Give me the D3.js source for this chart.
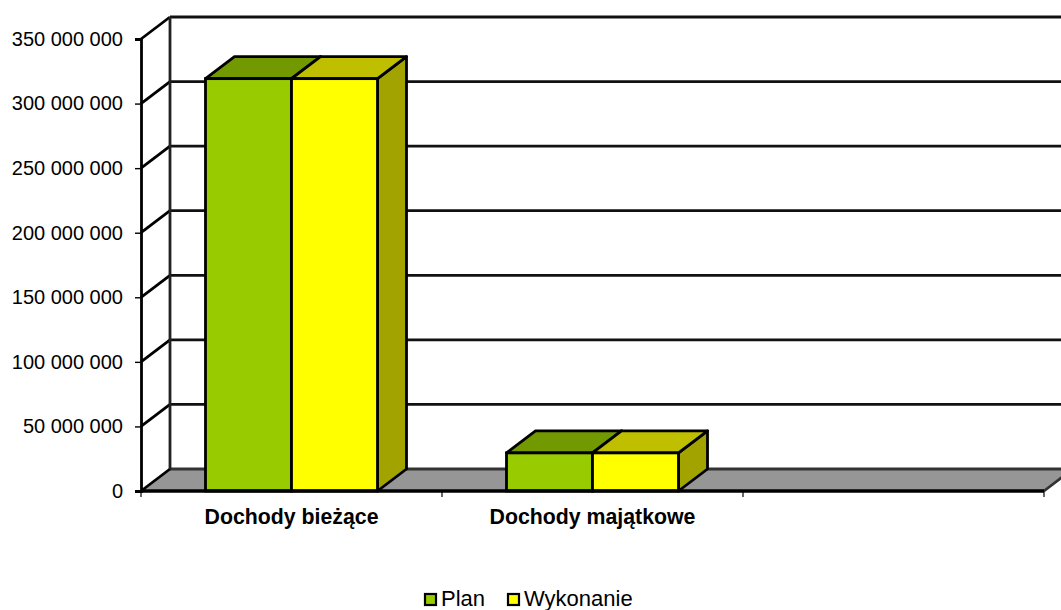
<!DOCTYPE html>
<html><head><meta charset="utf-8">
<script src="https://cdn.jsdelivr.net/npm/d3@7"></script>
<style>html,body{margin:0;padding:0;background:#fff}svg{display:block}text{font-family:"Liberation Sans",Arial,sans-serif;fill:#000}</style>
</head><body><svg id="c" width="1061" height="610"></svg>
<script>
const categories = ["Dochody bieżące", "Dochody majątkowe", ""];
const seriesNames = ["Plan", "Wykonanie"];
const planValues = [319300000, 29500000, null];
const wykonanieValues = [319300000, 29500000, null];
const yTicks = [0, 50000000, 100000000, 150000000, 200000000, 250000000, 300000000, 350000000];
const frontColors = ["#99cc00", "#ffff00"];
const topColors = ["#739900", "#bfbf00"];
const sideColors = ["#739900", "#a3a300"];
const floorColor = "#969696";

const dx = 29, dy = -22, sw = 2.8;
const svg = d3.select("#c");
const y = d3.scaleLinear().domain([0, 350000000]).range([491, 39]);
const x0 = d3.scaleBand().domain(categories).range([141, 1044]);
const x1 = d3.scaleBand().domain(seriesNames).range([0, x0.bandwidth()]).paddingInner(0).paddingOuter(0.75);
const fmt = v => d3.format(",")(v).replace(/,/g, " ");
const pts = a => a.map(p => p.join(",")).join(" ");
const xL = x0.range()[0], xR = x0.range()[1], y0 = y(0);

// floor
svg.append("polygon").attr("points", pts([[xL,y0],[xL+dx,y0+dy],[xR+dx,y0+dy],[xR,y0]]))
  .attr("fill", floorColor).attr("stroke","none");
svg.append("line").attr("x1",xL+dx).attr("x2",1061).attr("y1",y0+dy).attr("y2",y0+dy).attr("stroke","#333").attr("stroke-width",sw);

// walls & gridlines
yTicks.slice(1).forEach(t => {
  svg.append("line").attr("x1",xL+dx).attr("x2",1061).attr("y1",y(t)+dy).attr("y2",y(t)+dy).attr("stroke","#111").attr("stroke-width",sw);
});
yTicks.forEach(t => {
  svg.append("line").attr("x1",xL).attr("y1",y(t)).attr("x2",xL+dx).attr("y2",y(t)+dy).attr("stroke","#000").attr("stroke-width",sw);
});
svg.append("line").attr("x1",xL+dx).attr("x2",xL+dx).attr("y1",y0+dy).attr("y2",y(350000000)+dy).attr("stroke","#222").attr("stroke-width",sw);
svg.append("line").attr("x1",xR).attr("y1",y0).attr("x2",xR+dx).attr("y2",y0+dy).attr("stroke","#333").attr("stroke-width",sw);

// bars
[planValues, wykonanieValues].forEach((vals, s) => {
  const name = seriesNames[s];
  const g = svg.append("g");
  categories.forEach((c, i) => {
    if (vals[i] == null) return;
    const a = x0(c) + x1(name), b = a + x1.bandwidth(), t = y(vals[i]);
    g.append("polygon").attr("points", pts([[b,y0],[b+dx,y0+dy],[b+dx,t+dy],[b,t]])).attr("fill", sideColors[s]).attr("stroke","#000").attr("stroke-width",sw).attr("stroke-linejoin","round");
    g.append("polygon").attr("points", pts([[a,t],[a+dx,t+dy],[b+dx,t+dy],[b,t]])).attr("fill", topColors[s]).attr("stroke","#000").attr("stroke-width",sw).attr("stroke-linejoin","round");
    g.append("rect").attr("x",a).attr("y",t).attr("width",b-a).attr("height",y0-t).attr("fill", frontColors[s]).attr("stroke","#000").attr("stroke-width",sw);
  });
});

// y axis
const ay = svg.append("g").attr("transform",`translate(${xL},0)`)
  .call(d3.axisLeft(y).tickValues(yTicks).tickFormat(fmt).tickSize(6).tickPadding(12));
ay.select(".domain").attr("stroke","#000").attr("stroke-width",sw);
ay.selectAll(".tick line").attr("stroke","#000").attr("stroke-width",1.4);
ay.selectAll("text").style("font-size","20px");

// x axis
svg.append("line").attr("x1",xL).attr("x2",xR).attr("y1",y0).attr("y2",y0).attr("stroke","#000").attr("stroke-width",sw+0.6);
const edges = categories.map(c => x0(c)).concat([xR]);
svg.append("g").selectAll("line").data(edges).join("line")
  .attr("x1",d=>d).attr("x2",d=>d).attr("y1",y0).attr("y2",y0+6).attr("stroke","#000").attr("stroke-width",1.2);
svg.append("g").selectAll("text").data(categories).join("text")
  .attr("x",d=>x0(d)+x0.bandwidth()/2).attr("y",524).attr("text-anchor","middle")
  .attr("font-weight","bold").attr("font-size","21.3px").text(d=>d);

// legend
const lg = svg.append("g");
const legendX = [425, 508];
seriesNames.forEach((n,i)=>{
  lg.append("rect").attr("x",legendX[i]).attr("y",594).attr("width",11).attr("height",11).attr("fill",frontColors[i]).attr("stroke","#000").attr("stroke-width",2.2);
  lg.append("text").attr("x",legendX[i]+16).attr("y",606).attr("font-size","22px").text(n);
});
</script></body></html>
